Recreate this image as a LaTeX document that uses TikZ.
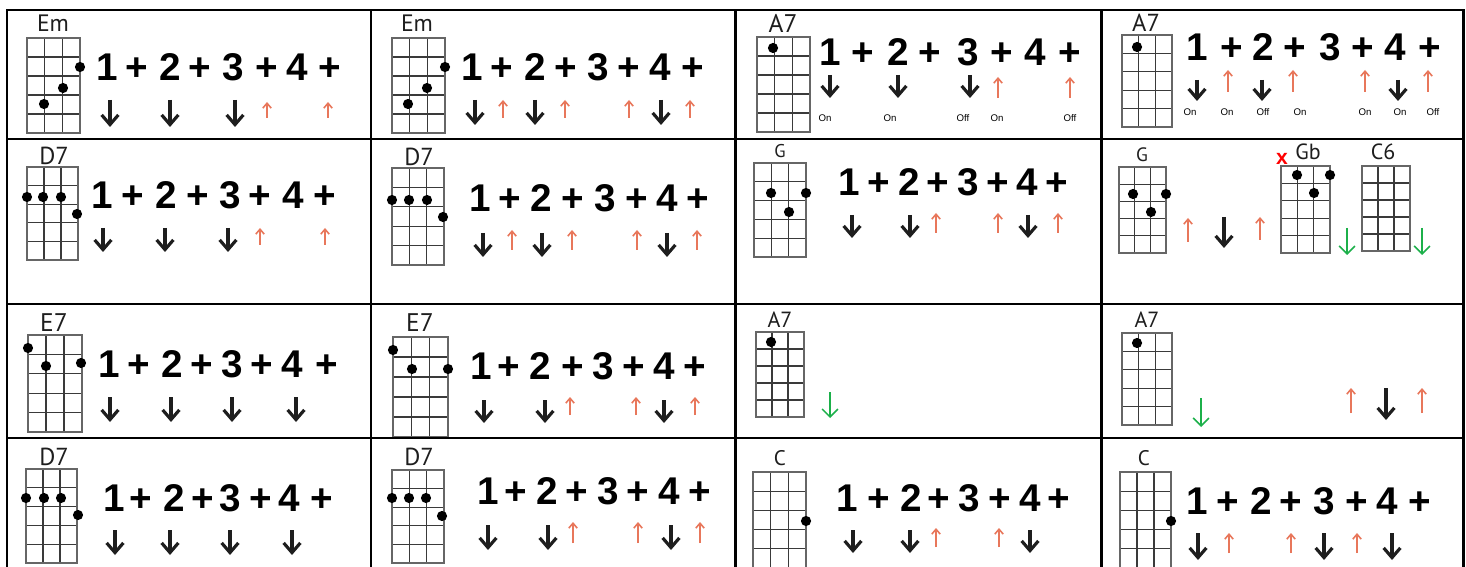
\documentclass[tikz,border=0pt]{standalone}
\usepackage{fontspec}
\setmainfont{Liberation Sans}
\newfontfamily\chordfont{PT Sans}
\usetikzlibrary{arrows.meta}
\definecolor{uporange}{HTML}{E8775B}
\definecolor{dngreen}{HTML}{1CB04A}
\definecolor{gridgray}{HTML}{3A3A3A}
\definecolor{framegray}{HTML}{666666}
\definecolor{inkblack}{HTML}{1E1E1E}
\tikzset{
  gridline/.style={draw=gridgray, line width=0.65pt},
  gridframe/.style={draw=framegray, line width=0.95pt},
  tableline/.style={draw=black, line width=1.7pt},
  beat/.style={inner sep=0pt, anchor=base, text=black, font=\fontsize{22}{22}\selectfont\bfseries},
  chordlabel/.style={inner sep=0pt, anchor=base, text=inkblack},
  onoff/.style={inner sep=0pt, anchor=base, font=\fontsize{5.5}{5.5}\selectfont},
  dnarrow/.style={draw=inkblack, line width=1.8pt, -{Straight Barb[length=5.5pt,width=9.5pt,line width=1.8pt]}},
  uparrow/.style={draw=uporange, line width=0.9pt, -{Straight Barb[length=2.8pt,width=4.8pt]}},
  grarrow/.style={draw=dngreen, line width=0.9pt, -{Straight Barb[length=4.5pt,width=9pt]}},
}
\newcommand\chordgrid[4]{%
  \foreach \gi in {1,2}{\draw[gridline] ({#1+\gi*(#3-#1)/3},#2) -- ({#1+\gi*(#3-#1)/3},#4);}
  \foreach \gj in {1,2,3,4}{\draw[gridline] (#1,{#2+\gj*(#4-#2)/5}) -- (#3,{#2+\gj*(#4-#2)/5});}
  \draw[gridframe] (#1,#2) rectangle (#3,#4);
}
\newcommand\fretdots[1]{\foreach \dx/\dy in {#1}{\fill[black] (\dx,\dy) circle[radius=2.9pt];}}
\newcommand\beatrow[3]{\foreach \bx [count=\bk] in {#3}{%
  \ifodd\bk\relax
    \node[beat] (#1-\bk) at ({\bx},{#2+14}) {\the\numexpr(\bk+1)/2\relax};
  \else
    \node[beat] (#1-\bk) at ({\bx},{#2+14}) {+};
  \fi}}
\newcommand\stdn[3]{\foreach \ax in {#1}{\draw[dnarrow] (\ax,#2) -- (\ax,#3);}}
\newcommand\stup[3]{\foreach \ax in {#1}{\draw[uparrow] (\ax,#3) -- (\ax,#2);}}
\newcommand\stgr[3]{\foreach \ax in {#1}{\draw[grarrow] (\ax,#2) -- (\ax,#3);}}
\newcommand\lblsize[1]{\chordfont\fontsize{#1}{#1}\selectfont}
\begin{document}
\begin{tikzpicture}[x=0.02cm, y=-0.02cm]
\useasboundingbox (0,0) rectangle (1466,567);
\clip (0,0) rectangle (1466,567);
\fill[white] (0,0) rectangle (1466,567);

% ---------- row 1 ----------
\node[chordlabel, font=\lblsize{13.5}] (lab11) at (53,32) {Em};
\chordgrid{27}{38}{80}{133}
\fretdots{80/67,63/88,44/104}
\beatrow{b11}{67}{107,137,170,200,233,267,297,330}
\stdn{110,170,235}{100}{127}
\stup{267,328}{102}{118}

\node[chordlabel, font=\lblsize{13.5}] (lab12) at (417,32) {Em};
\chordgrid{392}{38}{445}{133}
\fretdots{445/67,427/88,408/104}
\beatrow{b12}{67}{472,502,535,566,598,629,660,693}
\stdn{475,535,661}{100}{125}
\stup{503,565,629,690}{100}{118}

\node[chordlabel, font=\lblsize{14.5}] (lab13) at (783,33) {A7};
\chordgrid{757}{37}{810}{132}
\fretdots{773/48}
\beatrow{b13}{52}{830,863,898,930,968,1002,1035,1070}
\stdn{830,898,970}{75}{98}
\stup{998,1070}{77}{98}
\node[onoff] (o13a) at (825,122) {On};
\node[onoff] (o13b) at (890,122) {On};
\node[onoff] (o13c) at (963,122) {Off};
\node[onoff] (o13d) at (997,122) {On};
\node[onoff] (o13e) at (1070,122) {Off};

\node[chordlabel, font=\lblsize{14}] (lab14) at (1146,32) {A7};
\chordgrid{1122}{35}{1172}{127}
\fretdots{1137/47}
\beatrow{b14}{47}{1197,1232,1263,1295,1330,1363,1395,1430}
\stdn{1197,1262,1398}{80}{101}
\stup{1228,1293,1365,1428}{70}{92}
\node[onoff] (o14a) at (1190,116) {On};
\node[onoff] (o14b) at (1227,116) {On};
\node[onoff] (o14c) at (1263,116) {Off};
\node[onoff] (o14d) at (1300,116) {On};
\node[onoff] (o14e) at (1365,116) {On};
\node[onoff] (o14f) at (1400,116) {On};
\node[onoff] (o14g) at (1433,116) {Off};

% ---------- row 2 ----------
\node[chordlabel, font=\lblsize{14}] (lab21) at (54,165) {D7};
\chordgrid{27}{167}{78}{260}
\fretdots{27/197,43/197,61/197,77/214}
\beatrow{b21}{195}{102,133,166,198,230,260,293,325}
\stdn{103,165,228}{228}{252}
\stup{260,325}{228}{245}

\node[chordlabel, font=\lblsize{14}] (lab22) at (419,166) {D7};
\chordgrid{392}{168}{444}{265}
\fretdots{392/200,409/200,427/200,443/217}
\beatrow{b22}{198}{480,510,541,573,605,637,667,698}
\stdn{483,542,667}{233}{257}
\stup{512,572,637,697}{230}{250}

\node[chordlabel, font=\lblsize{10.5}] (lab23) at (780,158) {G};
\chordgrid{754}{163}{806}{257}
\fretdots{771/193,806/193,789/212}
\beatrow{b23}{182}{849,879,909,938,968,998,1027,1057}
\stdn{852,910,1028}{215}{238}
\stup{936,998,1058}{213}{233}

\node[chordlabel, font=\lblsize{11}] (lab24a) at (1142,162) {G};
\chordgrid{1119}{167}{1166}{253}
\fretdots{1133/194,1166/194,1151/212}
\stup{1188}{218}{242}
\stdn{1224}{217}{248}
\stup{1260}{217}{240}
\node[chordlabel, text=red, font=\bfseries\fontsize{12}{12}\selectfont] (mute24) at (1282,165) {x};
\node[chordlabel, font=\lblsize{12.5}] (lab24b) at (1308,160) {Gb};
\chordgrid{1281}{166}{1330}{253}
\fretdots{1297/175,1330/175,1314/193}
\stgr{1347}{228}{255}
\node[chordlabel, font=\lblsize{12.5}] (lab24c) at (1383,160) {C6};
\chordgrid{1362}{166}{1410}{251}
\stgr{1422}{228}{255}

% ---------- row 3 ----------
\node[chordlabel, font=\lblsize{14.5}] (lab31) at (54,332) {E7};
\chordgrid{28}{335}{82}{432}
\fretdots{28/348,46/366,81/363}
\beatrow{b31}{363}{109,139,172,202,232,262,292,327}
\stdn{110,171,232,296}{397}{422}

\node[chordlabel, font=\lblsize{14.5}] (lab32) at (420,332) {E7};
\chordgrid{393}{337}{448}{437}
\fretdots{393/350,412/369,448/369}
\beatrow{b32}{365}{481,509,540,573,603,634,664,695}
\stdn{484,545,664}{400}{423}
\stup{570,636,695}{397}{415}

\node[chordlabel, font=\lblsize{12.5}] (lab33) at (780,327) {A7};
\chordgrid{756}{332}{804}{417}
\fretdots{771/342}
\stgr{830}{392}{418}

\node[chordlabel, font=\lblsize{12.5}] (lab34) at (1147,327) {A7};
\chordgrid{1122}{333}{1172}{425}
\fretdots{1137/343}
\stgr{1201}{398}{427}
\stup{1351,1422}{388}{413}
\stdn{1386}{388}{420}

% ---------- row 4 ----------
\node[chordlabel, font=\lblsize{14}] (lab41) at (54,465) {D7};
\chordgrid{26}{469}{77}{563}
\fretdots{26/498,44/498,61/498,78/515}
\beatrow{b41}{497}{114,141,174,203,230,261,289,322}
\stdn{115,170,230,292}{530}{555}

\node[chordlabel, font=\lblsize{14}] (lab42) at (419,465) {D7};
\chordgrid{392}{470}{444}{563}
\fretdots{392/498,409/498,426/498,442/516}
\beatrow{b42}{490}{488,516,547,577,608,638,669,700}
\stdn{488,548,671}{525}{550}
\stup{573,638,700}{522}{543}

\node[chordlabel, font=\lblsize{12}] (lab43) at (780,465) {C};
\chordgrid{753}{472}{806}{568}
\fretdots{806/521}
\beatrow{b43}{497}{847,879,911,939,969,1000,1030,1059}
\stdn{853,910,1030}{530}{553}
\stup{936,999}{528}{547}

\node[chordlabel, font=\lblsize{12}] (lab44) at (1144,465) {C};
\chordgrid{1120}{472}{1171}{568}
\fretdots{1171/521}
\beatrow{b44}{500}{1197,1228,1261,1291,1324,1357,1387,1420}
\stdn{1198,1324,1392}{533}{560}
\stup{1229,1291,1357}{533}{553}

% ---------- table ----------
\draw[tableline] (7,580) -- (7,10) -- (1463,10) -- (1463,580);
\draw[tableline] (7,139) -- (1463,139);
\draw[tableline] (7,304) -- (1463,304);
\draw[tableline] (7,438) -- (1463,438);
\foreach \vx in {371,735,1101}{\draw[tableline] (\vx,10) -- (\vx,580);}
\end{tikzpicture}
\end{document}
